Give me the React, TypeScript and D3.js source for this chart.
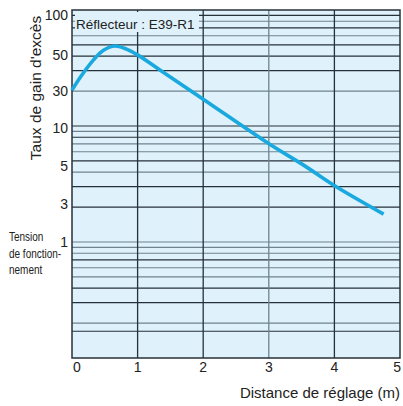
import React from "react";
import * as d3 from "d3";

const xTicks = [0, 1, 2, 3, 4, 5];
const yGridValues = [0.17, 0.2, 0.3, 0.4, 0.5, 0.6, 0.7, 0.8, 0.9, 1, 2, 3, 4, 5, 6, 7, 8, 9, 10, 20, 30, 40, 50, 60, 70, 80, 90];
const yGreyLines = [0.2, 0.5, 0.6, 0.8, 0.9, 1, 4, 6, 7, 9, 20, 60, 80];
const yTickLabels = ["100", "50", "30", "10", "5", "3", "1"];
const yTickLabelAt = [90.5, 41, 20, 9.6, 4.5, 2.13, 1];

const curveX = [0, 0.14, 0.325, 0.48, 0.655, 0.83, 1.0, 1.34, 2.0, 2.99, 3.53, 4.01, 4.75];
const curveY = [20.4, 27, 37, 45, 49, 46, 41, 30.4, 17, 7.1, 4.6, 3.04, 1.74];

const W = 403;
const H = 406;
const L = 72, R = 400, T = 10, B = 358;

export default function App() {
  const x = d3.scaleLinear().domain([0, 5]).range([L, R]);
  const y = d3.scaleLog().domain([0.1, 100]).range([B, T]);
  const pts: [number, number][] = curveX.map((v, i) => [v, curveY[i]]);
  const line = d3
    .line<[number, number]>()
    .x((d) => x(d[0]))
    .y((d) => y(d[1]))
    .curve(d3.curveCatmullRom.alpha(0.5));
  const font = "'Liberation Sans', Arial, Helvetica, sans-serif";
  const dark = "#26313b";
  const grey = "#6f8391";
  return (
    <svg
      width={W}
      height={H}
      style={{ position: "absolute", left: 0, top: 0 }}
      fontFamily={font}
    >
      <rect x={0} y={0} width={W} height={H} fill="#ffffff" />
      <rect x={L} y={T} width={R - L} height={B - T} fill="#dff1fa" />
      {yGridValues.map((v) => (
        <line
          key={"h" + v}
          x1={L}
          x2={R}
          y1={y(v)}
          y2={y(v)}
          stroke={yGreyLines.includes(v) ? grey : dark}
          strokeWidth={1.2}
        />
      ))}
      {xTicks.slice(1, -1).map((v) => (
        <line
          key={"v" + v}
          x1={x(v)}
          x2={x(v)}
          y1={T}
          y2={B}
          stroke={v === 3 ? grey : dark}
          strokeWidth={1.3}
        />
      ))}
      <rect x={L + 3} y={T + 2} width={124} height={20} fill="#dff1fa" />
      <text x={L + 4} y={T + 19} fontSize={13.5} fill="#222">
        Réflecteur : E39-R1
      </text>
      <rect x={L} y={T} width={R - L} height={B - T} fill="none" stroke={dark} strokeWidth={1.5} />
      <path d={line(pts) || ""} fill="none" stroke="#1aa9de" strokeWidth={3.6} strokeLinecap="butt" />
      {yTickLabels.map((t, i) => (
        <text
          key={"yl" + t}
          x={L - 4}
          y={y(yTickLabelAt[i])}
          dy="0.36em"
          textAnchor="end"
          fontSize={14}
          fill="#222"
        >
          {t}
        </text>
      ))}
      {xTicks.map((v, i) => (
        <text
          key={"xl" + v}
          x={i === 0 ? x(v) + 1 : i === xTicks.length - 1 ? x(v) + 1 : x(v)}
          y={B + 14}
          textAnchor={i === 0 ? "start" : i === xTicks.length - 1 ? "end" : "middle"}
          fontSize={14}
          fill="#222"
        >
          {v}
        </text>
      ))}
      <text
        transform={`translate(41, ${88}) rotate(-90)`}
        textAnchor="middle"
        fontSize={15.5}
        fill="#222"
      >
        Taux de gain d'excès
      </text>
      <text x={400} y={398} textAnchor="end" fontSize={15} fill="#222">
        Distance de réglage (m)
      </text>
      <g fontSize={12.5} fill="#222" transform="translate(9,0) scale(0.8,1)">
        <text x={0} y={241}>Tension</text>
        <text x={0} y={258}>de fonction-</text>
        <text x={0} y={274}>nement</text>
      </g>
    </svg>
  );
}
